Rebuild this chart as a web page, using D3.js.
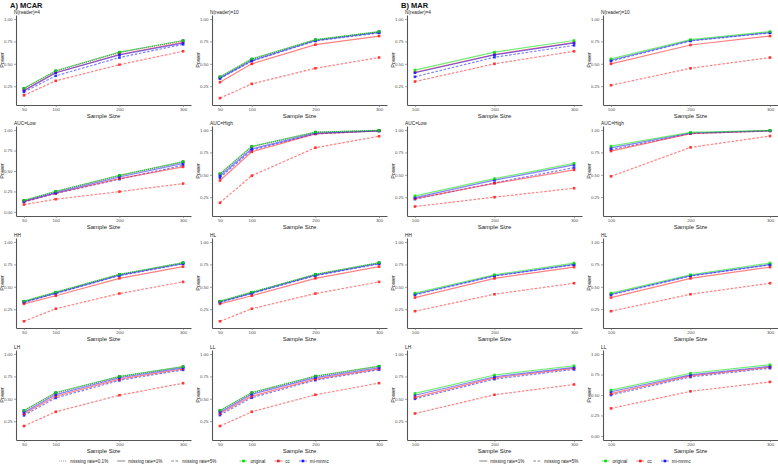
<!DOCTYPE html>
<html>
<head>
<meta charset="utf-8">
<script src="https://cdn.jsdelivr.net/npm/d3@7"></script>
<style>
  body { margin: 0; background: #fff; }
  svg { font-family: "Liberation Sans", Arial, sans-serif; }
</style>
</head>
<body>
<svg id="chart" width="778" height="464"></svg>
<script>
// sample sizes on the x axis
const sizesA = [50, 100, 200, 300];
const sizesB = [100, 200, 300];
const panelTitles = ['N(reader)=4', 'N(reader)=10', 'AUC=Low', 'AUC=High', 'HH', 'HL', 'LH', 'LL'];
const yTicks = [0, 0.25, 0.5, 0.75, 1];
const methods = ['original', 'cc', 'mi-mnmc'];
const ratesA = ['missing rate=0.1%', 'missing rate=1%', 'missing rate=5%'];
const ratesB = ['missing rate=1%', 'missing rate=5%'];
// panels whose y axis runs down to 0
const zeroPanelsA = ['AUC=Low'];
const zeroPanelsB = ['LL'];

// A) MCAR, one row per panel (values at 50, 100, 200, 300)
const mcarOriginal = [
  [0.227, 0.423, 0.63, 0.76], [0.355, 0.555, 0.77, 0.86], [0.142, 0.252, 0.447, 0.614], [0.513, 0.818, 0.977, 0.996],
  [0.34, 0.44, 0.64, 0.77], [0.34, 0.44, 0.64, 0.77], [0.37, 0.57, 0.75, 0.86], [0.37, 0.57, 0.755, 0.865]
];
const mcarCc01 = [
  [0.222, 0.418, 0.626, 0.757], [0.35, 0.55, 0.766, 0.857], [0.138, 0.248, 0.443, 0.61], [0.505, 0.812, 0.975, 0.995],
  [0.335, 0.436, 0.636, 0.766], [0.335, 0.436, 0.636, 0.766], [0.365, 0.565, 0.746, 0.857], [0.365, 0.565, 0.75, 0.86]
];
const mcarCc1 = [
  [0.205, 0.40, 0.604, 0.74], [0.295, 0.50, 0.714, 0.81], [0.126, 0.228, 0.407, 0.55], [0.436, 0.757, 0.957, 0.99],
  [0.31, 0.40, 0.595, 0.725], [0.31, 0.40, 0.595, 0.725], [0.333, 0.529, 0.72, 0.833], [0.335, 0.53, 0.72, 0.835]
];
const mcarCc5 = [
  [0.148, 0.31, 0.49, 0.64], [0.117, 0.276, 0.45, 0.57], [0.09, 0.155, 0.248, 0.346], [0.188, 0.49, 0.803, 0.93],
  [0.115, 0.255, 0.425, 0.555], [0.115, 0.255, 0.425, 0.555], [0.196, 0.355, 0.54, 0.674], [0.196, 0.355, 0.545, 0.675]
];
const mcarMi01 = [
  [0.224, 0.42, 0.628, 0.758], [0.352, 0.552, 0.768, 0.858], [0.14, 0.25, 0.445, 0.612], [0.508, 0.815, 0.976, 0.995],
  [0.337, 0.438, 0.638, 0.768], [0.337, 0.438, 0.638, 0.768], [0.367, 0.567, 0.748, 0.858], [0.367, 0.567, 0.752, 0.862]
];
const mcarMi1 = [
  [0.20, 0.40, 0.60, 0.73], [0.34, 0.536, 0.76, 0.85], [0.13, 0.236, 0.427, 0.593], [0.486, 0.79, 0.965, 0.99],
  [0.33, 0.43, 0.63, 0.76], [0.33, 0.43, 0.63, 0.76], [0.348, 0.547, 0.735, 0.845], [0.35, 0.55, 0.737, 0.847]
];
const mcarMi5 = [
  [0.185, 0.366, 0.57, 0.717], [0.335, 0.53, 0.755, 0.845], [0.122, 0.224, 0.40, 0.57], [0.467, 0.776, 0.957, 0.99],
  [0.325, 0.425, 0.625, 0.755], [0.325, 0.425, 0.625, 0.755], [0.315, 0.51, 0.706, 0.823], [0.318, 0.512, 0.708, 0.825]
];

// B) MAR (values at 100, 200, 300)
const marOriginal = [
  [0.43, 0.63, 0.76], [0.555, 0.77, 0.86], [0.265, 0.457, 0.628], [0.82, 0.974, 0.996],
  [0.43, 0.635, 0.765], [0.43, 0.635, 0.765], [0.56, 0.766, 0.869], [0.56, 0.766, 0.869]
];
const marCc1 = [
  [0.404, 0.604, 0.737], [0.50, 0.71, 0.81], [0.235, 0.405, 0.555], [0.765, 0.96, 0.99],
  [0.38, 0.594, 0.72], [0.38, 0.594, 0.72], [0.516, 0.734, 0.84], [0.516, 0.734, 0.84]
];
const marCc5 = [
  [0.302, 0.50, 0.64], [0.26, 0.45, 0.57], [0.146, 0.25, 0.35], [0.483, 0.806, 0.933],
  [0.228, 0.417, 0.54], [0.228, 0.417, 0.54], [0.336, 0.545, 0.66], [0.336, 0.545, 0.66]
];
const marMi1 = [
  [0.40, 0.60, 0.733], [0.54, 0.76, 0.85], [0.246, 0.44, 0.61], [0.80, 0.967, 0.993],
  [0.417, 0.624, 0.75], [0.417, 0.624, 0.75], [0.54, 0.746, 0.85], [0.54, 0.746, 0.85]
];
const marMi5 = [
  [0.355, 0.573, 0.706], [0.53, 0.755, 0.845], [0.228, 0.41, 0.58], [0.78, 0.96, 0.99],
  [0.41, 0.62, 0.745], [0.41, 0.62, 0.745], [0.50, 0.72, 0.828], [0.50, 0.72, 0.828]
];

const colorOf = {'original': '#00dd00', 'cc': '#ff1a1a', 'mi-mnmc': '#1a1aff'};
const dashOf = {
  'missing rate=0.1%': '0.8,1.2',
  'missing rate=1%': null,
  'missing rate=5%': '2.6,1.6'
};

const groups = [
  {
    label: 'A) MCAR', x0: 0, sizes: sizesA, domain: [37.5, 312.5], rates: ratesA, zero: zeroPanelsA,
    series: [
      {method: 'cc', rate: 'missing rate=5%', vals: mcarCc5},
      {method: 'mi-mnmc', rate: 'missing rate=5%', vals: mcarMi5},
      {method: 'cc', rate: 'missing rate=0.1%', vals: mcarCc01},
      {method: 'mi-mnmc', rate: 'missing rate=0.1%', vals: mcarMi01},
      {method: 'cc', rate: 'missing rate=1%', vals: mcarCc1},
      {method: 'mi-mnmc', rate: 'missing rate=1%', vals: mcarMi1},
      {method: 'original', rate: 'missing rate=1%', vals: mcarOriginal}
    ]
  },
  {
    label: 'B) MAR', x0: 391, sizes: sizesB, domain: [90, 310], rates: ratesB, zero: zeroPanelsB,
    series: [
      {method: 'cc', rate: 'missing rate=5%', vals: marCc5},
      {method: 'mi-mnmc', rate: 'missing rate=5%', vals: marMi5},
      {method: 'cc', rate: 'missing rate=1%', vals: marCc1},
      {method: 'mi-mnmc', rate: 'missing rate=1%', vals: marMi1},
      {method: 'original', rate: 'missing rate=1%', vals: marOriginal}
    ]
  }
];

const svg = d3.select('#chart');
const colX = [16, 212];
const rowTop = [15, 126, 238, 350];
const pw = 175, ph = 90;
const axisColor = '#555';

function styleAxis(sel) {
  sel.select('.domain').attr('stroke', axisColor).attr('stroke-width', 1.1);
  sel.selectAll('.tick line').attr('stroke', '#666').attr('stroke-width', 0.6);
  sel.selectAll('.tick text').attr('fill', '#4d4d4d').style('font-size', '4.4px');
}

groups.forEach(g => {
  svg.append('text')
    .attr('x', g.x0 + 10)
    .attr('y', 7.5)
    .style('font-size', '7.5px')
    .style('font-weight', 'bold')
    .attr('fill', '#111')
    .text(g.label);

  panelTitles.forEach((title, i) => {
    const left = g.x0 + colX[i % 2];
    const top = rowTop[Math.floor(i / 2)];
    const hasZero = g.zero.includes(title);

    const x = d3.scaleLinear().domain(g.domain).range([left, left + pw]);
    const y = d3.scaleLinear()
      .domain(hasZero ? [-0.05, 1.05] : [0.04, 1.045])
      .range([top + ph, top]);

    const panel = svg.append('g');

    panel.append('g')
      .attr('transform', `translate(0,${top + ph})`)
      .call(d3.axisBottom(x).tickValues(g.sizes).tickSize(2).tickSizeOuter(0).tickPadding(1))
      .call(styleAxis);

    panel.append('g')
      .attr('transform', `translate(${left},0)`)
      .call(d3.axisLeft(y)
        .tickValues(yTicks.filter(t => t >= y.domain()[0]))
        .tickFormat(d3.format('.2f'))
        .tickSize(2).tickSizeOuter(0).tickPadding(1.5))
      .call(styleAxis);

    panel.append('text')
      .attr('x', left - 2)
      .attr('y', top - 1.5)
      .style('font-size', '4.8px')
      .attr('fill', '#222')
      .text(title);

    panel.append('text')
      .attr('x', left + pw / 2)
      .attr('y', top + ph + 12.5)
      .attr('text-anchor', 'middle')
      .style('font-size', '6px')
      .attr('fill', '#222')
      .text('Sample Size');

    panel.append('text')
      .attr('transform', `translate(${left - 12},${top + ph / 2}) rotate(-90)`)
      .attr('text-anchor', 'middle')
      .style('font-size', '5.5px')
      .attr('fill', '#222')
      .text('Power');

    const line = d3.line()
      .x((d, k) => x(g.sizes[k]))
      .y(d => y(d));

    g.series.forEach(s => {
      const vals = s.vals[i];
      panel.append('path')
        .datum(vals)
        .attr('d', line)
        .attr('fill', 'none')
        .attr('stroke', colorOf[s.method])
        .attr('stroke-opacity', 0.55)
        .attr('stroke-width', 1.2)
        .attr('stroke-dasharray', s.method === 'original' ? null : dashOf[s.rate]);

      panel.selectAll(null)
        .data(vals)
        .enter()
        .append('rect')
        .attr('x', (d, k) => x(g.sizes[k]) - 1.3)
        .attr('y', d => y(d) - 1.3)
        .attr('width', 2.6)
        .attr('height', 2.6)
        .attr('fill', colorOf[s.method])
        .attr('fill-opacity', 0.85);
    });
  });

  // legend under each half
  const lg = svg.append('g');
  let lx = 0;
  g.rates.forEach(r => {
    lg.append('line')
      .attr('x1', lx).attr('x2', lx + 8)
      .attr('y1', 0).attr('y2', 0)
      .attr('stroke', '#666')
      .attr('stroke-width', 0.8)
      .attr('stroke-dasharray', dashOf[r]);
    const t = lg.append('text')
      .attr('x', lx + 11)
      .attr('y', 1.6)
      .style('font-size', '4.6px')
      .attr('fill', '#222')
      .text(r);
    lx += 11 + t.node().getComputedTextLength() + 9;
  });
  lx += 14;
  methods.forEach(m => {
    lg.append('line')
      .attr('x1', lx).attr('x2', lx + 8)
      .attr('y1', 0).attr('y2', 0)
      .attr('stroke', colorOf[m])
      .attr('stroke-opacity', 0.55)
      .attr('stroke-width', 1);
    lg.append('rect')
      .attr('x', lx + 2.8).attr('y', -1.3)
      .attr('width', 2.6).attr('height', 2.6)
      .attr('fill', colorOf[m]);
    const t = lg.append('text')
      .attr('x', lx + 11)
      .attr('y', 1.6)
      .style('font-size', '4.6px')
      .attr('fill', '#222')
      .text(m);
    lx += 11 + t.node().getComputedTextLength() + 9;
  });
  lx -= 9;
  const center = g.x0 + 194;
  lg.attr('transform', `translate(${center - lx / 2},461)`);
});
</script>
</body>
</html>
